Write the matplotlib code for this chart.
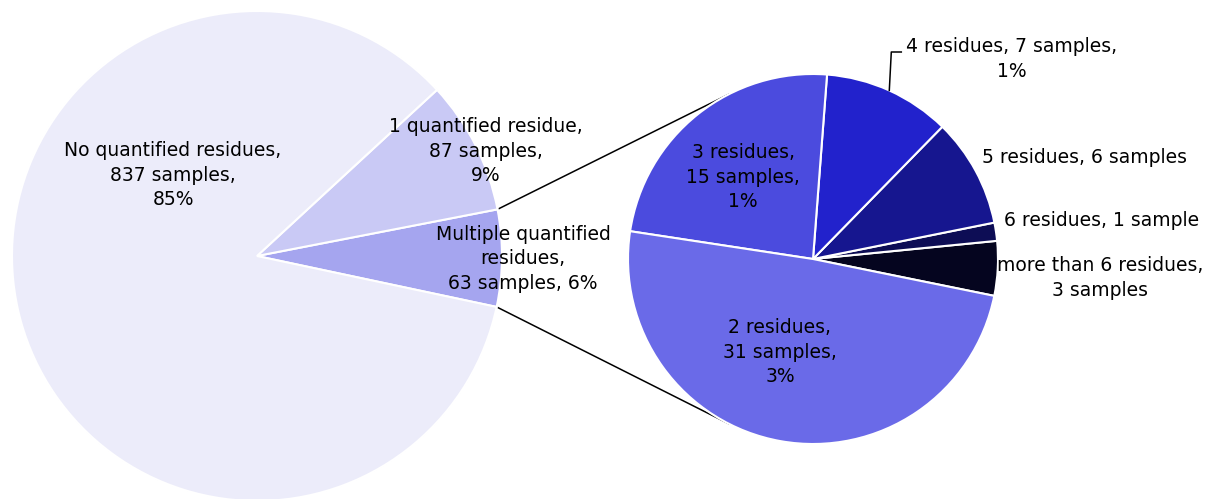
import numpy as np
import matplotlib
matplotlib.use('Agg')
import matplotlib.pyplot as plt

# main pie
main_labels = ['Multiple quantified\nresidues,\n63 samples, 6%',
               '1 quantified residue,\n87 samples,\n9%',
               'No quantified residues,\n837 samples,\n85%']
main_values = [63, 87, 837]
main_colors = ['#a5a5ef', '#c9c9f5', '#ececfa']

# breakdown of "multiple"
sub_labels = ['more than 6 residues,\n3 samples',
              '6 residues, 1 sample',
              '5 residues, 6 samples',
              '4 residues, 7 samples,\n1%',
              '3 residues,\n15 samples,\n1%',
              '2 residues,\n31 samples,\n3%']
sub_values = [3, 1, 6, 7, 15, 31]
sub_colors = ['#05051f', '#0d0d55', '#16168f', '#2222cc', '#4b4bde', '#6a6ae8']

W, H = 1208, 499
fig = plt.figure(figsize=(W / 100, H / 100), dpi=100)
ax = fig.add_axes([0, 0, 1, 1])

c1, r1 = (257, H - 256), 245
c2, r2 = (813, H - 259), 185

wp = dict(edgecolor='white', linewidth=1.5)
w1, _ = ax.pie(main_values, colors=main_colors, startangle=-12,
               center=c1, radius=r1, wedgeprops=wp)
w2, _ = ax.pie(sub_values, colors=sub_colors, startangle=-11.5,
               center=c2, radius=r2, wedgeprops=wp)
ax.set_xlim(0, W)
ax.set_ylim(0, H)
ax.set_aspect('equal')
ax.axis('off')


def edge_pt(c, r, ang):
    a = np.deg2rad(ang)
    return c[0] + r * np.cos(a), c[1] + r * np.sin(a)


# lines linking the "multiple" slice to the breakdown pie
for a_main, a_sub in [(w1[0].theta2, 117), (w1[0].theta1, -117)]:
    p1 = edge_pt(c1, r1, a_main)
    p2 = edge_pt(c2, r2, a_sub)
    ax.plot([p1[0], p2[0]], [p1[1], p2[1]], color='black', lw=1.1, zorder=0)

fs = 13.5
ls = 1.36
# label positions (pixel coords from the top-left)
main_pos = [(523, 259), (486, 151), (173, 175)]
sub_pos = [(1100, 278), (1102, 220), (1084, 157), (1012, 59), (743, 177), (780, 352)]

for lab, (x, y) in zip(main_labels, main_pos):
    ax.text(x, H - y, lab, ha='center', va='center', fontsize=fs, linespacing=ls)
for lab, (x, y) in zip(sub_labels, sub_pos):
    ax.text(x, H - y, lab, ha='center', va='center', fontsize=fs, linespacing=ls)

# leader line for the 4 residues label
w4 = w2[3]
px, py = edge_pt(c2, r2, (w4.theta1 + w4.theta2) / 2)
ax.plot([px, px + 2, px + 12], [py, H - 52, H - 52], color='black', lw=1.1)

fig.savefig('out.png', dpi=100)
